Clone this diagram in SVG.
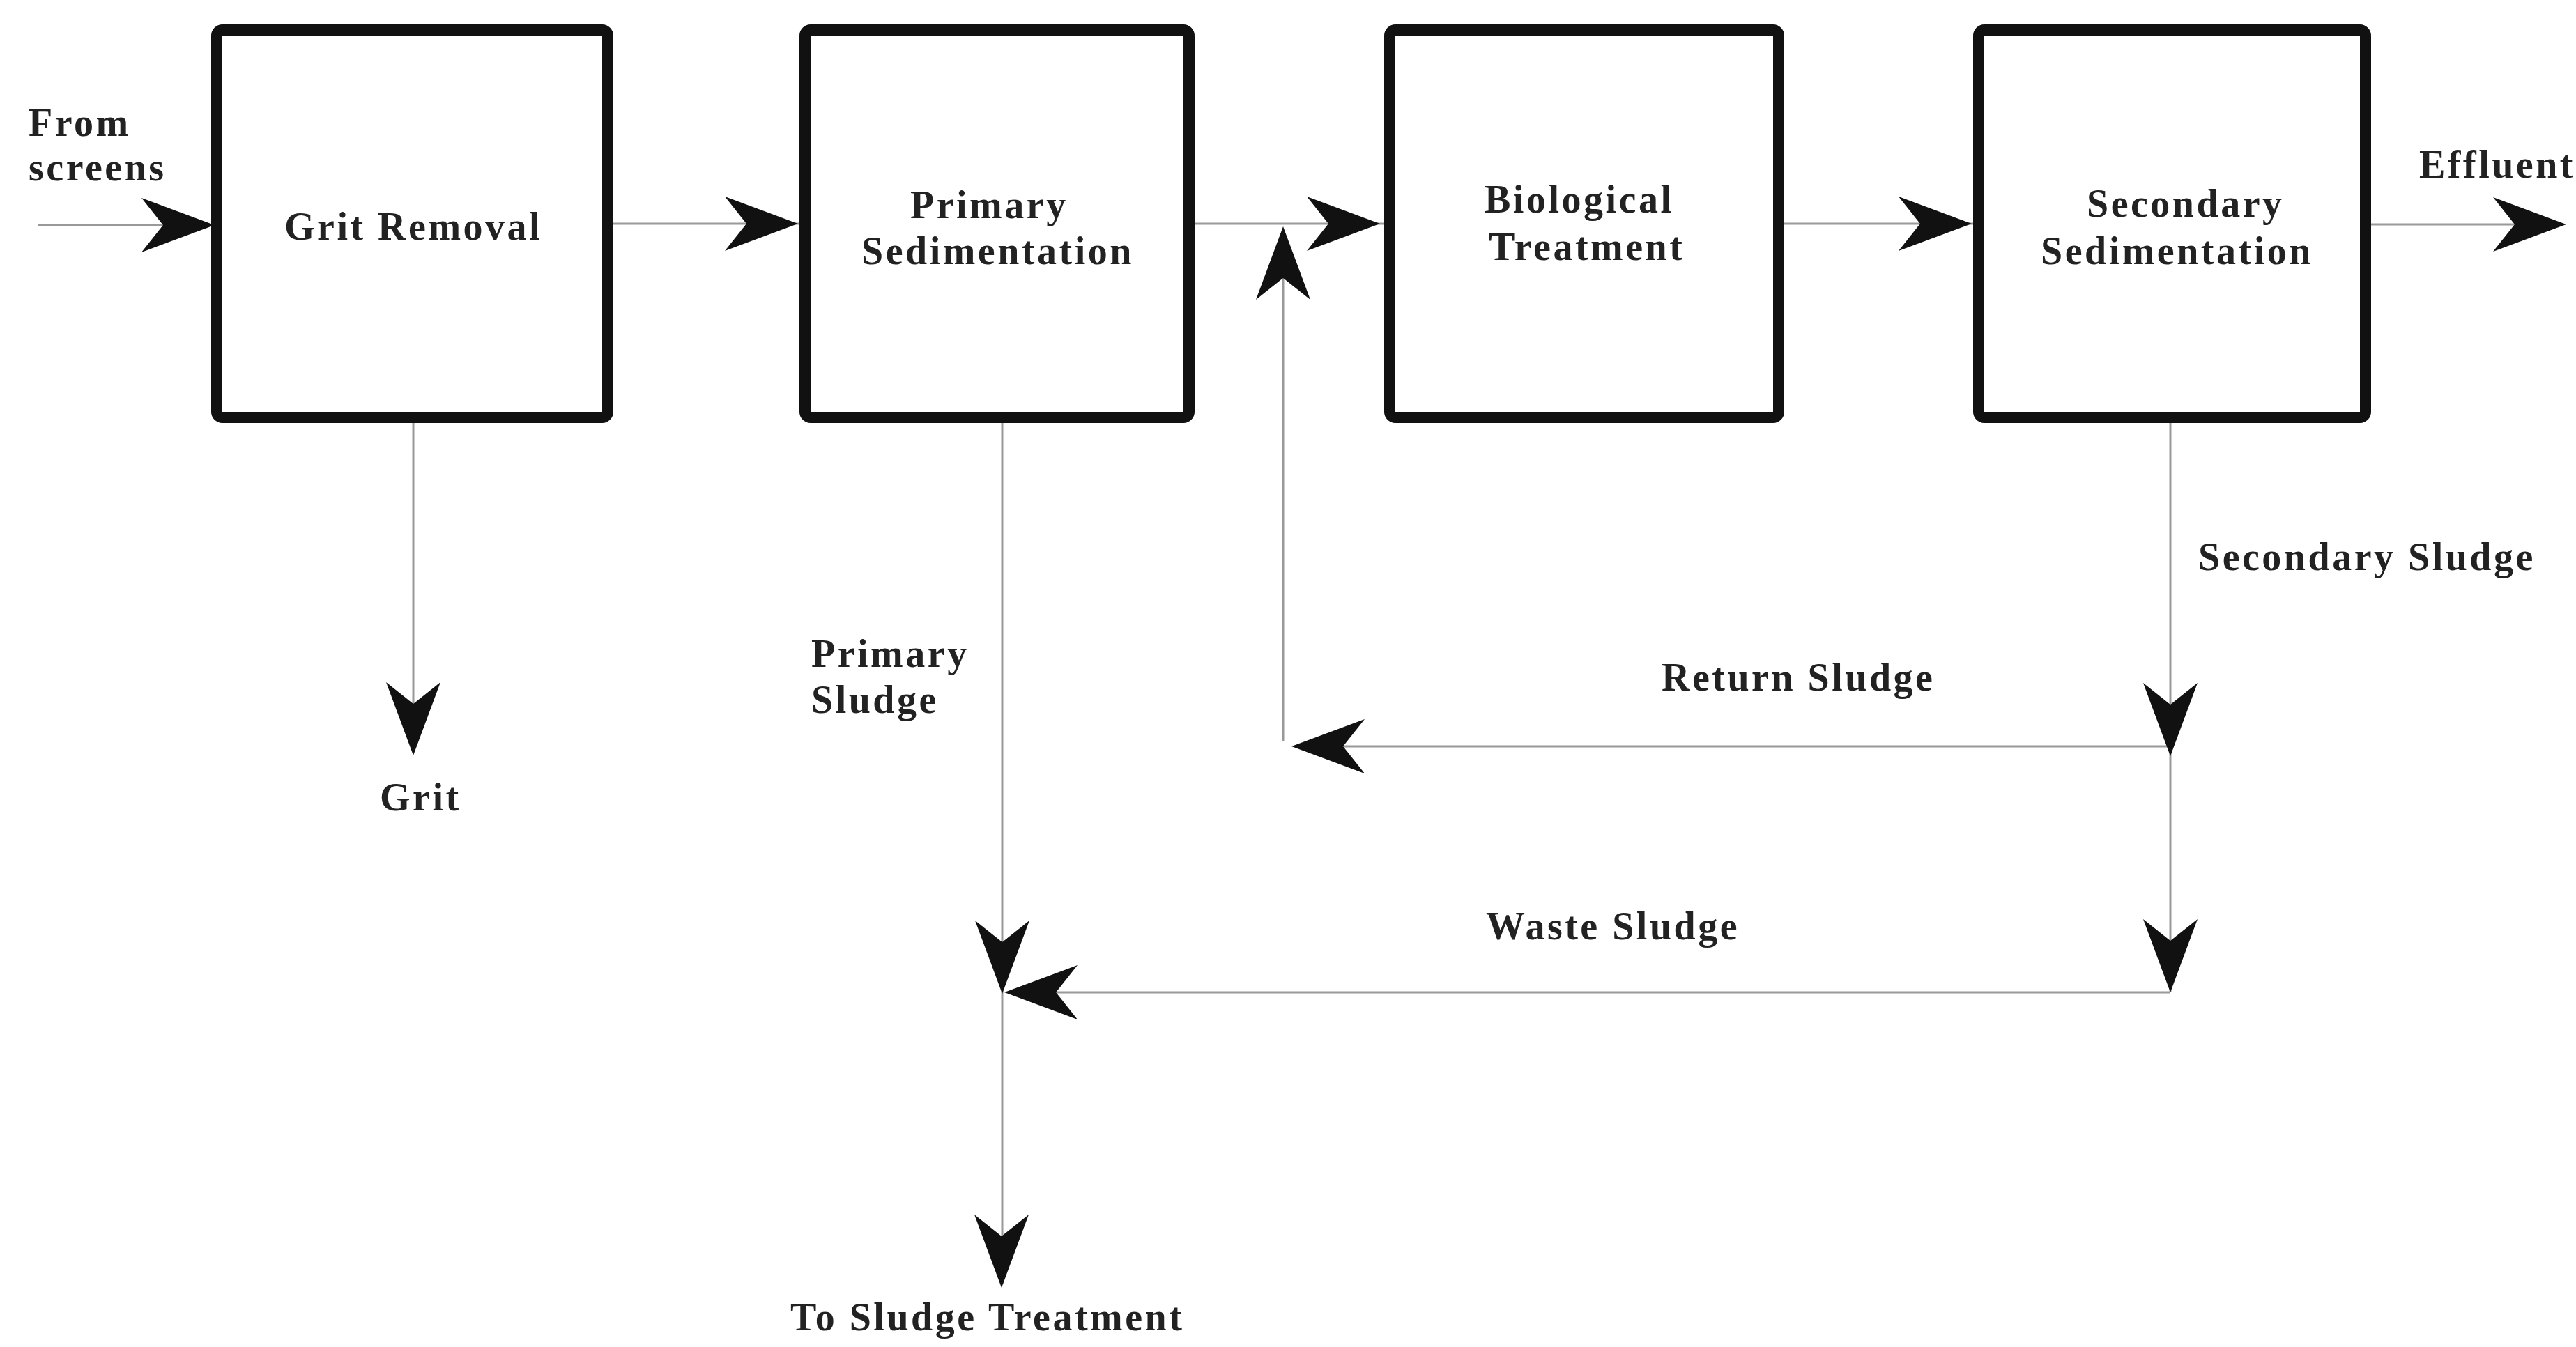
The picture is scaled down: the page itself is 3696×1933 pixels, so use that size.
<svg xmlns="http://www.w3.org/2000/svg" xmlns:xlink="http://www.w3.org/1999/xlink" width="3696" height="1933" viewBox="0 0 3696 1933">
<style>
.box{fill:#fff;stroke:#111;stroke-width:16}
.ln{stroke:#999;stroke-width:3;fill:none}
.t{font-family:"Liberation Serif","Times New Roman",serif;font-weight:bold;font-size:56px;letter-spacing:3.5px;fill:#222}
.ah{fill:#111}
</style>
<defs>
<path id="arr" d="M0,0 L-105,-39 L-74,0 L-105,39 Z"/>
</defs>
<rect width="3696" height="1933" fill="#fff"/>
<g id="connectors">
<line class="ln" x1="54" y1="323" x2="303" y2="323"/>
<line class="ln" x1="880" y1="321" x2="1147" y2="321"/>
<line class="ln" x1="1714" y1="321" x2="1986" y2="321"/>
<line class="ln" x1="2560" y1="321" x2="2831" y2="321"/>
<line class="ln" x1="3402" y1="322" x2="3676" y2="322"/>
<line class="ln" x1="593" y1="607" x2="593" y2="1078"/>
<line class="ln" x1="1438" y1="607" x2="1438" y2="1842"/>
<line class="ln" x1="3114" y1="607" x2="3114" y2="1424"/>
<line class="ln" x1="3114" y1="1071" x2="1858" y2="1071"/>
<line class="ln" x1="1841" y1="1064" x2="1841" y2="332"/>
<line class="ln" x1="3114" y1="1424" x2="1446" y2="1424"/>
<g class="ah">
<use xlink:href="#arr" transform="translate(308,323)"/>
<use xlink:href="#arr" transform="translate(1145,321)"/>
<use xlink:href="#arr" transform="translate(1980,321)"/>
<use xlink:href="#arr" transform="translate(2829,321)"/>
<use xlink:href="#arr" transform="translate(3682,322)"/>
<use xlink:href="#arr" transform="translate(1841,325) rotate(-90)"/>
<use xlink:href="#arr" transform="translate(1853,1071) rotate(180)"/>
<use xlink:href="#arr" transform="translate(593,1084) rotate(90)"/>
<use xlink:href="#arr" transform="translate(3114,1085) rotate(90)"/>
<use xlink:href="#arr" transform="translate(3114,1424) rotate(90)"/>
<use xlink:href="#arr" transform="translate(1438,1426) rotate(90)"/>
<use xlink:href="#arr" transform="translate(1441,1424) rotate(180)"/>
<use xlink:href="#arr" transform="translate(1437,1848) rotate(90)"/>
</g>
</g>
<g id="grit-removal">
<rect class="box" x="311" y="43" width="561" height="556" rx="8"/>
<text class="t" x="408" y="344">Grit Removal</text>
</g>
<g id="primary-sedimentation">
<rect class="box" x="1155" y="43" width="551" height="556" rx="8"/>
<text class="t" x="1306" y="313">Primary</text>
<text class="t" x="1236" y="379">Sedimentation</text>
</g>
<g id="biological-treatment">
<rect class="box" x="1994" y="43" width="558" height="556" rx="8"/>
<text class="t" x="2130" y="305">Biological</text>
<text class="t" x="2136" y="373">Treatment</text>
</g>
<g id="secondary-sedimentation">
<rect class="box" x="2839" y="43" width="555" height="556" rx="8"/>
<text class="t" x="2994" y="311">Secondary</text>
<text class="t" x="2928" y="379">Sedimentation</text>
</g>
<g id="labels">
<text class="t" x="41" y="195">From</text>
<text class="t" x="41" y="259">screens</text>
<text class="t" x="3471" y="255">Effluent</text>
<text class="t" x="545" y="1163">Grit</text>
<text class="t" x="1164" y="957">Primary</text>
<text class="t" x="1164" y="1023">Sludge</text>
<text class="t" x="2384" y="991">Return Sludge</text>
<text class="t" x="2132" y="1348">Waste Sludge</text>
<text class="t" x="3154" y="818">Secondary Sludge</text>
<text class="t" x="1134" y="1909">To Sludge Treatment</text>
</g>
</svg>
